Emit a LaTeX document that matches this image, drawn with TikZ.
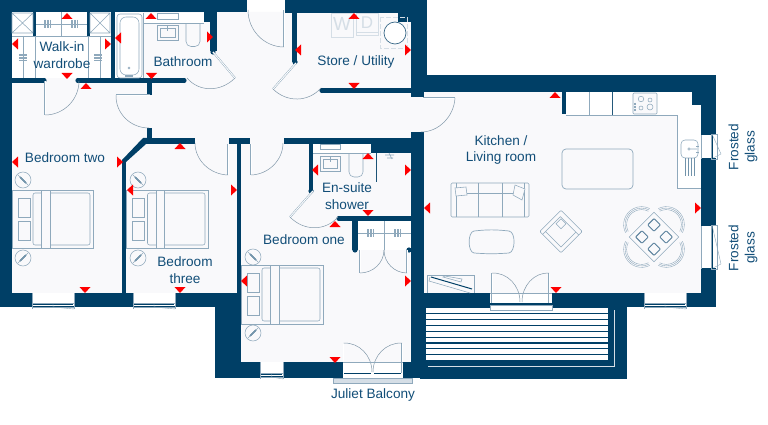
\documentclass[tikz,border=0pt]{standalone}
\usepackage{fontspec}
\setmainfont{Liberation Sans}
\usetikzlibrary{calc}
\definecolor{wallc}{HTML}{003F66}
\definecolor{floorc}{HTML}{F9F9FB}
\definecolor{furn}{HTML}{8FA9BC}
\definecolor{txtc}{HTML}{124E78}
\definecolor{pale}{HTML}{D5DEE6}
\tikzset{
  wallfill/.style={fill=wallc,draw=none},
  furnline/.style={draw=furn,line width=.55pt},
  furndark/.style={draw=wallc!75!furn,line width=.8pt},
  palefix/.style={draw=pale,line width=.7pt},
  leaf/.style={draw=furn,line width=.45pt,double=white,double distance=.9pt},
  swing/.style={draw=furn!90!black,line width=.5pt},
  lab/.style={text=txtc,font=\fontsize{13.6}{16.3}\selectfont,align=center,inner sep=0pt},
  marker/.style={fill=red,draw=none}
}
% red triangles: centre x,y
\newcommand{\triU}[2]{\fill[marker] (#1-5.5,#2+3) -- (#1+5.5,#2+3) -- (#1,#2-3) -- cycle;}
\newcommand{\triD}[2]{\fill[marker] (#1-5.5,#2-3) -- (#1+5.5,#2-3) -- (#1,#2+3) -- cycle;}
\newcommand{\triL}[2]{\fill[marker] (#1+3,#2-5.5) -- (#1+3,#2+5.5) -- (#1-3,#2) -- cycle;}
\newcommand{\triR}[2]{\fill[marker] (#1-3,#2-5.5) -- (#1-3,#2+5.5) -- (#1+3,#2) -- cycle;}
\newcommand{\wl}[4]{\fill[wallfill] (#1,#2) rectangle (#3,#4);}
% door: hinge, leaf end, swing end
\newcommand{\doorswing}[6]{%
  \draw[leaf] (#1,#2) -- (#3,#4);
  \draw[swing] (#3,#4) .. controls ($(#3,#4)+0.55*(#5,#6)-0.55*(#1,#2)$) and ($(#5,#6)+0.55*(#3,#4)-0.55*(#1,#2)$) .. (#5,#6);}
% bed: x1 (head), y1, x2, y2
\newcommand{\bedplan}[4]{%
  \draw[furnline,fill=floorc] (#1,#2) rectangle (#3,#4);
  \draw[furnline,rounded corners=2pt] (#1+21,#2+3) rectangle (#3-3,#4-3);
  \draw[furnline,fill=floorc] (#1+29.5,#2) rectangle (#1+38,#4);
  \draw[furnline] (#1+6,#2+8) rectangle (#1+18,#2+27);
  \draw[furnline] (#1+6,#2+31) rectangle (#1+18,#2+50);}
% bedside lamp
\newcommand{\lampA}[2]{\draw[furnline] (#1,#2) circle (8);
  \draw[wallc,line width=1.2pt] (#1-3,#2-3) -- (#1+3,#2+3);
  \draw[furn,line width=.5pt] (#1-5,#2-5) -- (#1+5,#2+5);}
\newcommand{\lampB}[2]{\draw[furnline] (#1,#2) circle (8);
  \draw[wallc,line width=1.2pt] (#1-3,#2+3) -- (#1+3,#2-3);
  \draw[furn,line width=.5pt] (#1-5,#2+5) -- (#1+5,#2-5);}
% hanger marks
\newcommand{\hangV}[2]{\foreach \d in {-3,-1.5,0,1.5,3}{\draw[furn,line width=.4pt] (#1+\d,#2-4) -- (#1+\d,#2+4);}}
\newcommand{\hangH}[2]{\foreach \d in {-3,-1.5,0,1.5,3}{\draw[furn,line width=.4pt] (#1-4,#2+\d) -- (#1+4,#2+\d);}}
% horizontal window: x1,x2,y1 (inner), y2 (wall outer)
\newcommand{\hwin}[4]{%
  \fill[white] (#1,#3) rectangle (#2,#4);
  \draw[furn,line width=.4pt] (#1,#3) -- (#1,#4+3) (#2,#3) -- (#2,#4+3);
  \draw[furn,line width=.5pt] (#1,#4-3) rectangle (#2,#4+1);
  \draw[wallc,line width=1pt] (#1+1,#4-2) -- (#2-1,#4-2);
  \draw[furn,line width=.4pt] ({(#1+#2)/2},#4-3) -- ({(#1+#2)/2},#4+1) -- (#2,#4+3) -- (#2,#4+1);}
% vertical window: y1,y2
\newcommand{\vwin}[2]{%
  \fill[white] (701,#1) rectangle (716,#2);
  \draw[furn,line width=.4pt] (701,#1) rectangle (701.5,#2);
  \draw[furn,line width=.5pt] (711,#1-1) rectangle (717,#2+1);
  \draw[wallc,line width=1pt] (712.5,#1) -- (712.5,#2);
  \draw[furn,line width=.4pt] (712,#1-1) -- (721,{#2-4}) -- (713,#2);}
\begin{document}
\begin{tikzpicture}[x=1pt,y=-1pt]
\useasboundingbox (0,0) rectangle (768,425);
\fill[white] (0,0) rectangle (768,425);
% floor
\fill[floorc] (6,12) -- (420,12) -- (420,85) -- (708,85) -- (708,300) -- (420,300) -- (420,370) -- (225,370) -- (225,300) -- (6,300) -- cycle;
% wardrobe white
\fill[white] (12,12) rectangle (111,78);
\fill[white] (115,12) rectangle (143,78);
\fill[white] (143,13) rectangle (204,24);
\fill[white] (313,144) rectangle (371,153);
\fill[white] (358,221) rectangle (411,250);
% kitchen units
\fill[white] (566,92) -- (701,92) -- (701,188) -- (677,188) -- (677,115) -- (566,115) -- cycle;
% terrace
\wl{420}{293}{627}{379}
\fill[white] (426,308) rectangle (608,360);
\foreach \k in {0,...,7}{\draw[wallc,line width=1.1pt] (426,{313.7+\k*5.85}) -- (608,{313.7+\k*5.85});}
\draw[pale,line width=.9pt] (614,310) -- (614,366) -- (428,366);
% outer walls
\wl{0}{0}{247}{12}
\wl{285}{0}{427}{13}
\wl{0}{0}{12}{307}
\wl{398}{13}{411}{22}
\wl{411}{0}{427}{92}
\wl{411}{75}{716}{92}
\wl{692}{92}{716}{105}
\wl{701}{92}{716}{307}
\wl{0}{293}{241}{307}
\wl{215}{293}{241}{378}
\wl{215}{362}{343}{378}
\wl{403}{362}{424}{378}
\wl{411}{132}{424}{378}
\wl{424}{293}{716}{307}
\wl{411}{92}{424}{97}
% inner walls
\wl{12}{78}{43}{83}
\wl{79}{78}{184}{83}
\wl{111}{12}{115}{78}
\wl{33}{12}{36}{36}
\wl{87}{12}{90}{36}
\wl{204}{12}{217}{22}
\wl{210}{22}{217}{51}
\wl{147}{83}{152}{95}
\wl{147}{128}{152}{140}
\wl{292}{13}{297}{62}
\wl{322}{88}{411}{93}
\wl{145}{138}{195}{144}
\wl{229}{138}{250}{144}
\wl{284}{138}{411}{144}
\wl{371}{138}{411}{153}
\wl{237}{138}{241}{293}
\wl{122}{160}{126}{293}
\fill[wallfill] (143,138) -- (150,138) -- (150,144) -- (146,144) -- (126,162) -- (122,160) -- cycle;
\wl{309}{144}{313}{191}
\wl{339}{216}{411}{221}
\wl{352}{216}{358}{250}
\wl{562}{92}{566}{114}
% wall knobs
\foreach \a/\b in {44/80.5,78/80.5,184/80.5,213/52,295/62,322/90.5,311/191,339/218.5,355/250,409/250}{\fill[wallc] (\a,\b) circle (2.6);}
% windows
\hwin{32}{74}{293}{306}
\hwin{133}{175}{293}{306}
\hwin{644}{686}{293}{306}
\hwin{260}{283}{362}{376}
\vwin{135}{158}
\vwin{226}{268}
% doors
\doorswing{45}{81}{45}{115}{79}{81}
\doorswing{213}{52}{235}{78}{187}{78}
\doorswing{150}{95}{116}{95}{149}{128}
\doorswing{284}{10}{284}{47}{248}{10}
\doorswing{296}{63}{273}{89}{321}{88}
\doorswing{423}{98}{455}{98}{421}{132}
\doorswing{228}{144}{228}{175}{195}{143}
\doorswing{251}{144}{251}{175}{283}{143}
\doorswing{313}{191}{290}{217}{338}{217}
\doorswing{360}{250}{360}{273}{384}{250}
\doorswing{407}{250}{407}{273}{384}{250}
% Juliet balcony
\fill[white] (343,362) rectangle (403,373);
\doorswing{343.5}{373}{343.5}{343}{372}{372}
\doorswing{402}{373}{402}{343}{373}{372}
\draw[furn,line width=.5pt] (343,362) -- (403,362);
\draw[wallc,line width=1.1pt] (344,373.5) -- (371,373.5) (374,373.5) -- (401,373.5);
\draw[furn,fill=pale,line width=.4pt] (333,378) rectangle (412,383);
\fill[white] (343,378) -- (343,376) -- (403,376) -- (403,378) -- cycle;
% kitchen balcony door
\fill[white] (490,293) rectangle (552,303);
\doorswing{492}{303}{492}{273}{520}{302}
\doorswing{549}{303}{549}{273}{522}{302}
\draw[furn,line width=.5pt] (490,293) -- (552,293);
\draw[wallc,line width=1.1pt] (492,303.5) -- (519,303.5) (523,303.5) -- (549,303.5);
\draw[furn,fill=white,line width=.4pt] (490,305.5) rectangle (552,310);
% wardrobe fittings
\draw[furnline] (12,13) rectangle (33,33) (12,13) -- (33,33) (33,13) -- (12,33);
\draw[furnline] (90,13) rectangle (110,33) (90,13) -- (110,33) (110,13) -- (90,33);
\draw[furnline] (36,24) -- (87,24) (61,12) -- (61,36) (12,36) -- (111,36);
\draw[furnline] (23,36) -- (23,78) (35,36) -- (35,78) (88,36) -- (88,78) (100,36) -- (100,78);
\hangV{47}{24} \hangV{74}{24} \hangH{23}{57} \hangH{98}{57}
% bathroom
\draw[furnline,rounded corners=3pt] (117,14) rectangle (142,78);
\draw[furnline,rounded corners=6pt] (120,17) rectangle (139,75);
\draw[furn,line width=1.4pt] (125,76) -- (133,76);
\draw[furnline] (129,68) circle (1);
\draw[furnline] (143,23.5) -- (204,23.5) (143,13) -- (143,78);
\draw[furnline,fill=white] (157,13) rectangle (178,19);
\draw[furnline,line width=.8pt] (157,25) rectangle (178,40);
\draw[furnline] (160,28) rectangle (175,37);
\draw[furnline] (167,25) -- (167,31);
\draw[furnline,rounded corners=5pt] (186,23.5) -- (186,46.5) -- (200,46.5) -- (200,23.5);
% en-suite
\draw[furnline] (313,153) -- (371,153);
\draw[furnline,fill=white] (320,144) rectangle (340,149.5);
\draw[furnline,line width=.8pt] (320,156) rectangle (340,171);
\draw[furnline] (323,159) rectangle (337,168);
\draw[furnline] (330,156) -- (330,162);
\draw[furnline,rounded corners=5pt] (349,153) -- (349,177) -- (363,177) -- (363,153);
\draw[wallc!80!furn,line width=.6pt] (376,153) -- (376,182);
\draw[furn,line width=.6pt] (385,155) -- (394,155) (387,158) -- (393,158) (389,153) -- (392,159);
% cupboard
\draw[furnline] (358,233) -- (411,233) (384,221) -- (384,250);
\hangV{370}{233} \hangV{397}{233}
% store appliances
\draw[palefix] (331,13) rectangle (353,37);
\draw[palefix] (356,13) rectangle (378,35);
\draw[palefix] (356,32) -- (378,32);
\draw[palefix,dash pattern=on 5pt off 2pt] (380,17) rectangle (407,48);
\node[inner sep=0pt,text=pale,font=\fontsize{19}{19}\selectfont] (wm) at (342,24) {W};
\node[inner sep=0pt,text=pale,font=\fontsize{17}{17}\selectfont] (dr) at (367,23) {D};
\fill[white] (395,33) circle (11);
\draw[wallc!60!furn,line width=.7pt] (395,33) circle (11);
% kitchen fittings
\draw[furnline] (566,115) -- (677,115) -- (677,188) -- (701,188);
\draw[furnline] (589,92) -- (589,115);
\draw[furndark] (612.7,92) -- (612.7,115);
\draw[furnline,fill=floorc,rounded corners=1pt] (633,93) rectangle (657,114);
\draw[furnline] (641,99) circle (2.8) (650,100) circle (2) (641,108) circle (2) (650,107) circle (3);
\draw[furn,line width=1.2pt,dash pattern=on .8pt off .6pt] (635,103) -- (635,111);
\draw[furnline,fill=white,rounded corners=4pt] (681,140) rectangle (698,158);
\draw[furnline] (689,149) circle (1.2) (690,149) -- (697,149);
\draw[furn,line width=.5pt] (696,146) -- (699,146) (696,152) -- (699,152);
\draw[furn!80!wallc,line width=.7pt] (685,158) -- (685,176) (688,158) -- (688,176) (691,158) -- (691,176) (694,158) -- (694,176);
\draw[furn,line width=.7pt,rounded corners=4pt] (562,149) rectangle (633,189);
% sofa
\draw[furnline,rounded corners=1.2pt] (451,183) rectangle (529,217);
\draw[furnline] (456,183) -- (456,217) (524,183) -- (524,217) (478,183) -- (478,217) (502,183) -- (502,217) (456,193) -- (524,193);
\draw[furnline,fill=floorc] (455,188) -- (466,187) -- (467,195) -- (456,196) -- cycle;
\draw[furnline,fill=floorc] (515,185) -- (525,189) -- (522,200) -- (513,195) -- cycle;
% coffee table
\draw[furn,line width=.7pt] (474,231) .. controls (488,229.5) and (495,229.5) .. (509,231) .. controls (516,232) and (515.5,252) .. (509,253) .. controls (495,254) and (488,254) .. (474,253) .. controls (467.5,252) and (467.5,232) .. (474,231) -- cycle;
% armchair
\begin{scope}[shift={(561,231.5)},rotate=45]
\draw[furnline,rounded corners=1pt] (-15,-15) rectangle (15,15);
\draw[furnline] (-15,-11) -- (10,-11) -- (10,15) (-11,-11) -- (-11,11) -- (10,11);
\draw[furnline,fill=floorc] (2,-9) rectangle (9,-2);
\end{scope}
% TV unit
\draw[furnline] (427,293) -- (427,275) -- (474,275) -- (474,293);
\draw[furnline] (443,277) -- (461,282) -- (462,279) -- (445,276) -- cycle;
\draw[wallc,line width=1pt] (431,277) -- (472,289);
\draw[furnline] (430,277) -- (429,281) -- (470,293);
% dining set
\begin{scope}[shift={(654,237)},rotate=45]
\draw[furnline] (-17.5,-17.5) rectangle (17.5,17.5);
\foreach \a/\b in {-8.5/-8.5,8.5/-8.5,-8.5/8.5,8.5/8.5}{\draw[furn!60!wallc,line width=.9pt,rounded corners=.8pt] (\a-4.5,\b-4.5) rectangle (\a+4.5,\b+4.5);}
\foreach \r in {0,90,180,270}{\begin{scope}[rotate=\r]
  \foreach \s in {15,16.5,18}{\draw[furn,line width=.4pt] ([shift={(-72:\s)}]17.5,0) arc (-72:72:\s);}
\end{scope}}
\end{scope}
% beds
\bedplan{12}{190}{93}{248}
\bedplan{126.5}{190}{208}{248}
\bedplan{241}{265}{323}{324}
\lampA{23}{180} \lampB{23}{258}
\lampA{138}{180} \lampB{138}{258}
\lampA{253}{257} \lampB{253}{333}
% markers
\triU{67}{16}\triU{151}{16}\triD{67}{76}\triD{151.5}{76}\triU{86}{86}
\triL{15}{44}\triL{118}{38}\triR{108}{44}\triR{210}{37}
\triU{354}{16}\triL{298}{50}\triR{408}{50}\triD{354}{86}
\triU{180}{146}\triL{15}{162}\triR{120}{162}
\triL{130}{190}\triR{234}{190}\triD{85}{290}\triD{180}{290}
\triL{244}{281}\triR{408}{281}\triD{335}{360}\triU{335}{224}
\triL{315}{170}\triU{368}{156}\triR{408}{170}\triD{368}{213}
\triU{555}{95}\triL{427}{208}\triR{698}{208}\triD{556}{290}
% labels
\node[lab] (walkin) at (62,55) {Walk-in\\wardrobe};
\node[lab] (bath) at (183,62) {Bathroom};
\node[lab] (store) at (356,62) {Store / Utility};
\node[lab] (kitchen) at (501,150) {Kitchen /\\Living room};
\node[lab] (bed2) at (65,158) {Bedroom two};
\node[lab] (bed3) at (185,270) {Bedroom\\three};
\node[lab] (ensuite) at (347,196) {En-suite\\shower};
\node[lab] (bed1) at (304,240) {Bedroom one};
\node[lab] (juliet) at (373,395) {Juliet Balcony};
\node[lab,rotate=90] (fro1) at (743,147) {Frosted\\glass};
\node[lab,rotate=90] (fro2) at (743,248) {Frosted\\glass};
\end{tikzpicture}
\end{document}
